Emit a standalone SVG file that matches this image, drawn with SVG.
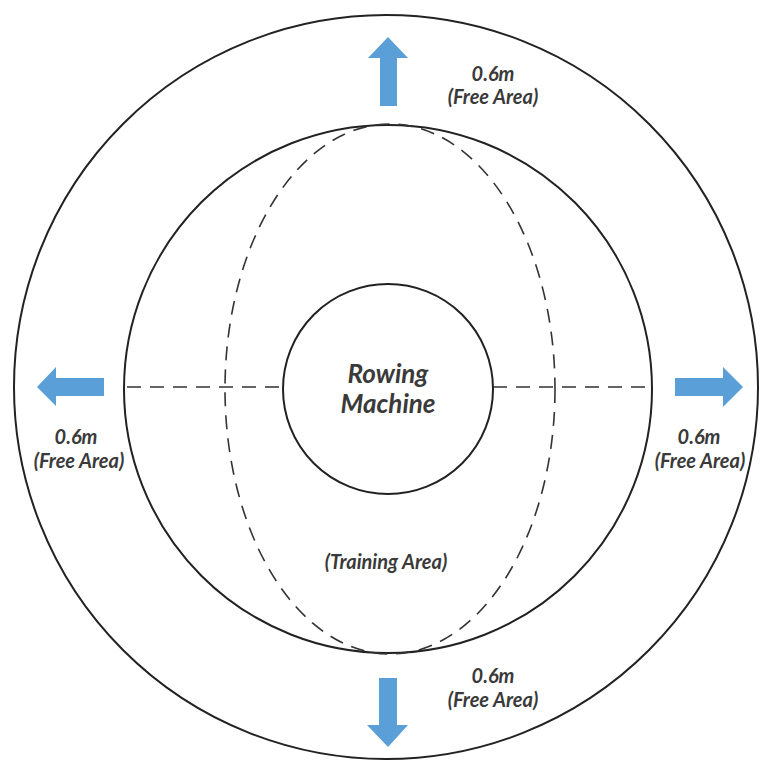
<svg xmlns="http://www.w3.org/2000/svg" width="761" height="764" viewBox="0 0 761 764">
<defs>
<style>
.ring{fill:none;stroke:#222;stroke-width:2}
.dash{fill:none;stroke:#333;stroke-width:1.6;stroke-dasharray:14 9}
.arrow{fill:#5a9fd8}
.lbl{font-family:Lato,"Liberation Sans",sans-serif;font-style:italic;font-weight:bold;fill:#3a3a3a;text-anchor:middle}
.free{font-size:20px}
.main{font-size:26px}
</style>
</defs>
<rect width="761" height="764" fill="#fff"/>
<g id="outer-circle"><circle class="ring" cx="386" cy="387" r="372"/></g>
<g id="inner-circle"><circle class="ring" cx="388" cy="389" r="264"/></g>
<g id="training-area">
<ellipse class="dash" cx="390" cy="389" rx="165" ry="265"/>
<text class="lbl free" x="386" y="569">(Training Area)</text>
</g>
<g id="connectors">
<line class="dash" x1="127" y1="387" x2="283" y2="387"/>
<line class="dash" x1="493" y1="387" x2="651" y2="387"/>
</g>
<g id="rowing-machine">
<circle class="ring" cx="388" cy="389" r="105"/>
<text class="lbl main" x="388" y="383">Rowing</text>
<text class="lbl main" x="388" y="413">Machine</text>
</g>
<g id="free-top">
<polygon class="arrow" points="388,37 408,58 397,58 397,106 380,106 380,58 368,58"/>
<text class="lbl free" x="493" y="81">0.6m</text>
<text class="lbl free" x="493" y="104">(Free Area)</text>
</g>
<g id="free-left">
<polygon class="arrow" points="37,387 56,367 56,378 104,378 104,396 56,396 56,406"/>
<text class="lbl free" x="76" y="444">0.6m</text>
<text class="lbl free" x="79" y="468">(Free Area)</text>
</g>
<g id="free-right">
<polygon class="arrow" points="743,387 723,367 723,378 675,378 675,396 723,396 723,407"/>
<text class="lbl free" x="699" y="444">0.6m</text>
<text class="lbl free" x="700" y="468">(Free Area)</text>
</g>
<g id="free-bottom">
<polygon class="arrow" points="388,747 408,725 397,725 397,678 379,678 379,725 367,725"/>
<text class="lbl free" x="493" y="683">0.6m</text>
<text class="lbl free" x="493" y="707">(Free Area)</text>
</g>
</svg>
